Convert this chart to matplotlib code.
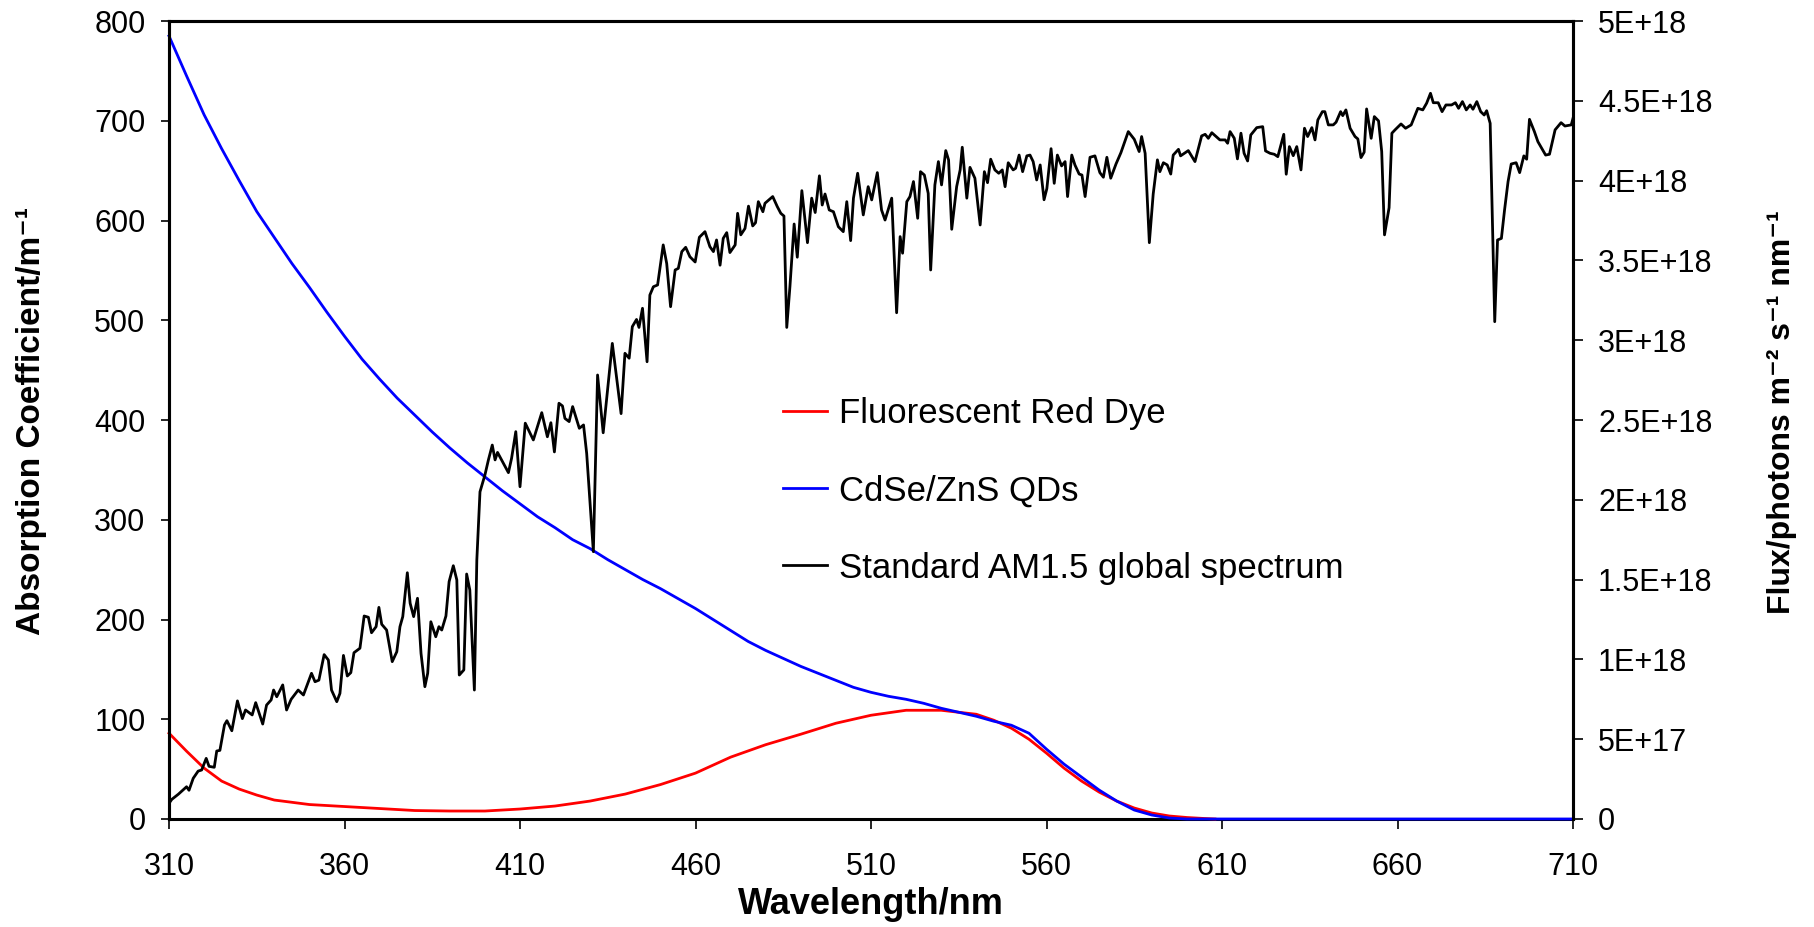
import matplotlib
matplotlib.use("Agg")
import matplotlib.pyplot as plt
from matplotlib.lines import Line2D
from matplotlib.ticker import FuncFormatter, MultipleLocator

# absorption of the fluorescent red dye (m^-1)
dye_wavelength = [310, 315, 320, 325, 330, 335, 340, 350, 360, 370, 380, 390, 400, 410, 420,
                  430, 440, 450, 460, 470, 480, 490, 500, 510, 520, 530, 540, 545, 550, 555,
                  560, 565, 570, 575, 580, 585, 590, 595, 600, 605, 608]
dye_absorption = [86, 68, 51, 38, 30, 24, 19, 14.5, 12.5, 10.5, 8.5, 8, 8, 10, 13,
                  18, 25, 34.5, 46, 62, 74.5, 85, 96, 104, 109, 109, 105, 99, 91, 80,
                  66, 51, 38, 27, 18, 11, 6, 3, 1.5, 0.5, 0]

# absorption of the CdSe/ZnS quantum dots (m^-1)
qd_wavelength = [310, 315, 320, 325, 330, 335, 340, 345, 350, 355, 360, 365, 370, 375, 380,
                 385, 390, 395, 400, 405, 410, 415, 420, 425, 430, 435, 440, 445, 450, 455,
                 460, 465, 470, 475, 480, 485, 490, 495, 500, 505, 510, 515, 520, 525, 530,
                 535, 540, 545, 550, 555, 560, 565, 570, 575, 580, 585, 590, 595, 600, 650, 710]
qd_absorption = [785, 745, 706, 672, 640, 609, 583, 557, 533, 508, 484, 461, 441, 422, 405,
                 388, 372, 357, 343, 329, 316, 303, 292, 280, 271, 260, 250, 240, 231, 221,
                 211, 200, 189, 178, 169, 161, 153, 146, 139, 132, 127, 123, 120, 116, 111,
                 107, 103, 98, 94, 86, 70, 55, 42, 29, 18, 9, 4, 1, 0, 0, 0]

# AM1.5 global spectrum, photon flux in units of 1E+18 m^-2 s^-1 nm^-1
am15_wavelength = [
    310.0, 310.8, 312.7, 315.0, 315.7, 316.9, 318.3, 319.3, 320.6, 321.4, 322.9, 323.6, 324.5,
    325.8, 326.5, 327.9, 329.5, 330.9, 331.8, 333.7, 334.7, 336.7, 337.8, 339.1, 339.8, 340.7,
    342.4, 343.5, 344.8, 346.8, 348.3, 350.6, 351.6, 352.7, 354.2, 355.4, 356.3, 357.8, 358.7,
    359.7, 360.8, 361.8, 362.7, 364.4, 365.6, 366.8, 367.7, 369.0, 369.8, 370.6, 372.0, 373.6,
    374.9, 375.8, 376.6, 377.9, 378.7, 379.7, 380.8, 381.8, 382.9, 383.7, 384.6, 386.0, 386.9,
    387.7, 388.9, 389.8, 391.0, 392.0, 392.7, 394.0, 394.8, 395.7, 397.0, 397.7, 398.6, 400.0,
    401.0, 402.1, 402.9, 403.6, 406.7, 407.6, 408.8, 410.0, 411.5, 413.8, 416.2, 417.8, 418.8,
    419.8, 421.1, 422.1, 422.8, 424.0, 425.0, 426.9, 428.1, 429.0, 430.9, 432.1, 433.7, 436.3,
    438.8, 439.9, 441.1, 442.0, 443.2, 443.9, 444.9, 446.2, 447.0, 448.0, 449.2, 450.8, 451.8,
    452.9, 454.2, 455.1, 456.1, 457.2, 458.4, 459.9, 461.1, 462.7, 464.1, 465.1, 466.0, 467.0,
    467.9, 468.9, 469.8, 471.3, 472.0, 472.9, 474.1, 475.1, 476.3, 477.1, 477.9, 479.2, 479.8,
    482.0, 483.3, 484.3, 485.2, 486.0, 486.9, 488.1, 489.0, 490.3, 491.9, 493.1, 494.1, 495.3,
    496.1, 496.9, 498.1, 499.3, 500.7, 502.1, 503.1, 504.2, 505.0, 506.2, 507.8, 509.2, 510.2,
    511.8, 513.0, 514.0, 515.9, 517.3, 518.3, 519.0, 520.2, 521.1, 522.1, 523.3, 524.1, 525.2,
    526.3, 527.0, 528.2, 529.2, 530.1, 531.3, 532.1, 533.0, 534.4, 535.4, 536.0, 537.3, 538.2,
    539.6, 541.1, 542.3, 543.2, 544.1, 545.3, 546.4, 547.4, 548.2, 549.1, 550.5, 551.2, 552.2,
    553.2, 554.4, 555.3, 556.2, 557.2, 558.2, 559.3, 560.1, 561.3, 562.2, 563.1, 564.3, 565.3,
    566.0, 567.2, 568.1, 569.3, 570.1, 571.0, 572.4, 573.8, 575.2, 576.2, 577.2, 578.3, 579.8,
    581.2, 583.3, 585.0, 586.4, 587.1, 588.1, 589.3, 590.4, 591.6, 592.3, 593.3, 594.4, 595.4,
    596.1, 597.6, 598.2, 600.4, 602.3, 604.2, 605.2, 606.1, 607.1, 609.4, 610.9, 611.6, 612.3,
    613.5, 614.4, 615.4, 616.3, 617.3, 618.2, 619.9, 621.6, 622.4, 623.7, 624.9, 625.9, 627.6,
    628.3, 629.2, 630.3, 631.3, 632.5, 633.5, 634.4, 635.6, 636.5, 637.3, 638.6, 639.3, 640.3,
    641.7, 642.5, 643.8, 644.4, 645.3, 646.5, 647.9, 648.7, 649.6, 650.5, 651.2, 652.5, 653.4,
    654.6, 655.5, 656.3, 657.6, 658.4, 659.3, 661.0, 662.3, 663.9, 665.8, 667.2, 668.3, 669.4,
    670.2, 671.6, 672.7, 673.8, 675.4, 676.5, 677.4, 678.5, 679.6, 680.7, 681.5, 682.6, 683.7,
    684.7, 685.4, 686.4, 687.7, 688.5, 689.6, 690.5, 691.5, 692.4, 693.8, 694.8, 696.0, 696.8,
    697.6, 699.0, 700.0, 702.2, 703.3, 704.9, 706.6, 707.7, 709.5, 710.0,
]
am15_flux_e18 = [
    0.098, 0.123, 0.156, 0.202, 0.180, 0.255, 0.300, 0.307, 0.380, 0.330, 0.324, 0.426, 0.430,
    0.589, 0.616, 0.553, 0.740, 0.629, 0.683, 0.652, 0.729, 0.595, 0.714, 0.746, 0.808, 0.766,
    0.840, 0.683, 0.750, 0.808, 0.777, 0.913, 0.860, 0.870, 1.030, 0.996, 0.808, 0.735, 0.787,
    1.025, 0.896, 0.917, 1.042, 1.070, 1.272, 1.264, 1.167, 1.205, 1.326, 1.220, 1.184, 0.986,
    1.048, 1.205, 1.268, 1.543, 1.352, 1.268, 1.383, 1.038, 0.829, 0.913, 1.236, 1.142, 1.205,
    1.184, 1.272, 1.487, 1.587, 1.498, 0.902, 0.934, 1.535, 1.435, 0.808, 1.623, 2.050, 2.155,
    2.250, 2.343, 2.250, 2.297, 2.170, 2.260, 2.427, 2.082, 2.480, 2.375, 2.546, 2.395, 2.483,
    2.300, 2.605, 2.588, 2.510, 2.490, 2.584, 2.448, 2.469, 2.290, 1.675, 2.782, 2.420, 2.980,
    2.540, 2.918, 2.887, 3.085, 3.130, 3.080, 3.200, 2.865, 3.283, 3.335, 3.346, 3.597, 3.480,
    3.210, 3.440, 3.450, 3.555, 3.582, 3.523, 3.490, 3.645, 3.680, 3.586, 3.555, 3.628, 3.470,
    3.638, 3.674, 3.549, 3.597, 3.795, 3.660, 3.700, 3.840, 3.716, 3.736, 3.868, 3.805, 3.858,
    3.900, 3.837, 3.795, 3.778, 3.080, 3.335, 3.728, 3.520, 3.937, 3.611, 3.890, 3.800, 4.030,
    3.847, 3.916, 3.816, 3.805, 3.711, 3.680, 3.868, 3.624, 3.890, 4.046, 3.785, 3.962, 3.879,
    4.050, 3.816, 3.753, 3.890, 3.172, 3.649, 3.545, 3.868, 3.900, 3.994, 3.764, 4.056, 4.035,
    3.920, 3.440, 3.973, 4.119, 3.973, 4.188, 4.130, 3.695, 3.962, 4.067, 4.209, 3.890, 4.083,
    4.015, 3.722, 4.056, 3.987, 4.134, 4.067, 4.046, 4.067, 3.962, 4.112, 4.067, 4.077, 4.160,
    4.056, 4.155, 4.160, 4.119, 4.004, 4.098, 3.880, 3.950, 4.200, 3.983, 4.160, 4.092, 4.119,
    3.900, 4.160, 4.098, 4.041, 4.035, 3.900, 4.146, 4.155, 4.050, 4.021, 4.146, 4.015, 4.104,
    4.175, 4.307, 4.259, 4.182, 4.276, 4.171, 3.611, 3.916, 4.130, 4.056, 4.112, 4.098, 4.041,
    4.160, 4.196, 4.155, 4.188, 4.119, 4.280, 4.290, 4.265, 4.300, 4.255, 4.255, 4.234, 4.307,
    4.265, 4.136, 4.297, 4.171, 4.123, 4.286, 4.332, 4.338, 4.186, 4.171, 4.165, 4.150, 4.290,
    4.040, 4.213, 4.156, 4.213, 4.067, 4.328, 4.276, 4.332, 4.255, 4.380, 4.432, 4.432, 4.349,
    4.349, 4.366, 4.432, 4.407, 4.443, 4.328, 4.276, 4.261, 4.144, 4.178, 4.449, 4.265, 4.401,
    4.374, 4.182, 3.660, 3.830, 4.297, 4.318, 4.355, 4.328, 4.349, 4.453, 4.443, 4.485, 4.547,
    4.488, 4.488, 4.432, 4.474, 4.474, 4.488, 4.453, 4.495, 4.443, 4.474, 4.447, 4.495, 4.432,
    4.411, 4.438, 4.359, 3.116, 3.628, 3.638, 3.816, 3.994, 4.104, 4.112, 4.050, 4.155, 4.134,
    4.384, 4.307, 4.244, 4.160, 4.165, 4.318, 4.363, 4.342, 4.349, 4.390,
]

x_ticks = list(range(310, 711, 50))
legend_labels = ["Fluorescent Red Dye", "CdSe/ZnS QDs", "Standard AM1.5 global spectrum"]

plt.rcParams["font.family"] = ["Liberation Sans", "DejaVu Sans"]

W, H = 1814, 927
fig = plt.figure(figsize=(W / 100, H / 100), dpi=100)
left, right, top, bottom = 169, 1573, 21, 819
ax = fig.add_axes([left / W, 1 - bottom / H, (right - left) / W, (bottom - top) / H])
ax2 = ax.twinx()

ax.plot(dye_wavelength, dye_absorption, color="#FF0000", lw=2.0, zorder=3, clip_on=False)
ax.plot(qd_wavelength, qd_absorption, color="#0000FF", lw=2.0, zorder=3, clip_on=False)
ax2.plot(am15_wavelength, [v * 1e18 for v in am15_flux_e18], color="black", lw=2.0)

ax.set_xlim(310, 710)
ax.set_ylim(0, 800)
ax2.set_ylim(0, 5e18)
ax.set_xticks(x_ticks)
ax.yaxis.set_major_locator(MultipleLocator(100))
ax2.yaxis.set_major_locator(MultipleLocator(5e17))


def flux_label(value, pos):
    if value == 0:
        return "0"
    exp = len(str(int(round(value)))) - 1
    return f"{value / 10 ** exp:g}E+{exp}"


ax2.yaxis.set_major_formatter(FuncFormatter(flux_label))

for a in (ax, ax2):
    for spine in a.spines.values():
        spine.set_linewidth(2.2)
ax2.spines["bottom"].set_visible(False)

ax.tick_params(axis="x", direction="out", length=7, width=1.2, labelsize=22, pad=17)
ax.tick_params(axis="y", direction="out", length=6, width=1.2, labelsize=22, pad=11)
ax2.tick_params(axis="y", direction="out", length=7, width=1.2, labelsize=22, pad=11)

label_font = dict(family=["Liberation Sans", "DejaVu Sans"], weight="bold")
fig.text((left + right) / 2 / W, 1 - 905 / H, "Wavelength/nm", ha="center", va="center",
         fontsize=26, **label_font)
fig.text(32 / W, 1 - 421 / H, "Absorption Coefficient/m\u207b\u00b9", rotation=90,
         ha="center", va="center", fontsize=24, **label_font)
fig.text(1782 / W, 1 - 412 / H, "Flux/photons m\u207b\u00b2 s\u207b\u00b9 nm\u207b\u00b9",
         rotation=90, ha="center", va="center", fontsize=23, **label_font)

handles = [
    Line2D([], [], color="#FF0000", lw=2.0),
    Line2D([], [], color="#0000FF", lw=2.0),
    Line2D([], [], color="black", lw=2.0),
]
fig.legend(handles, legend_labels, loc="center left", bbox_to_anchor=(783 / W, 1 - 491 / H),
           frameon=False, fontsize=25, handlelength=1.27, handletextpad=0.35,
           labelspacing=1.27, borderpad=0, borderaxespad=0)

fig.savefig("out.png", dpi=100)
